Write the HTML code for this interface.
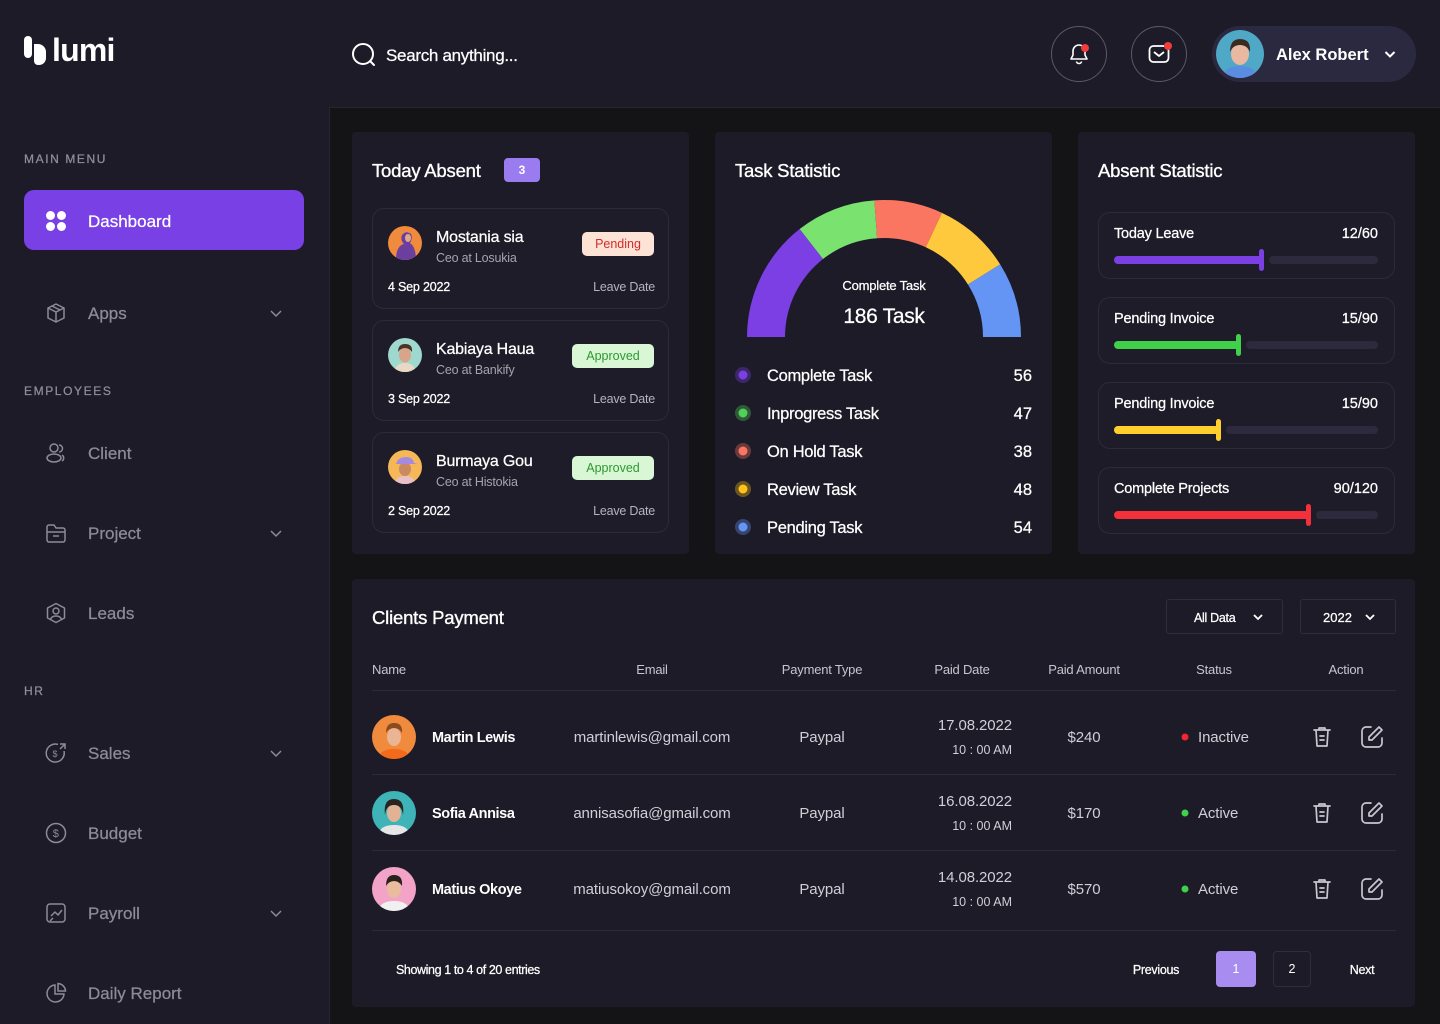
<!DOCTYPE html>
<html><head><meta charset="utf-8">
<style>
*{margin:0;padding:0;box-sizing:border-box}
body{width:1440px;height:1024px;background:#1c1b27;font-family:"Liberation Sans",sans-serif;color:#fff;position:relative;overflow:hidden}
.a{position:absolute}
.t{position:absolute;white-space:nowrap;line-height:20px;height:20px;margin-top:1px}
.card{position:absolute;background:#1c1b27;border-radius:4px}
.sub{position:absolute;border:1px solid #2c2b37;border-radius:12px;background:#1d1c28}
.nav{font-size:17px;color:#8c8b97;left:88px}
.sec{font-size:12px;letter-spacing:1.6px;color:#8f8e99;left:24px}
.title{font-size:18.5px;color:#fff;letter-spacing:-0.2px;-webkit-text-stroke:0.35px #fff}
.th{font-size:13px;color:#c7c6ce;letter-spacing:-0.2px}
.c{transform:translateX(-50%)}
.r{transform:translateX(-100%)}
.td{font-size:15px;color:#d0cfd7;letter-spacing:-0.1px}
.line{position:absolute;height:1px;background:#2c2b37;left:372px;width:1024px}
.badge{position:absolute;height:24px;line-height:24px;border-radius:5px;font-size:12.5px;text-align:center}
.m{-webkit-text-stroke:0.25px currentColor}
</style></head><body>

<!-- main dark area -->
<div class="a" style="left:329px;top:107px;width:1111px;height:917px;background:#141416;border-left:1px solid #262532;border-top:1px solid #262532"></div>

<!-- Logo -->
<svg class="a" style="left:22px;top:34px" width="26" height="32" viewBox="0 0 26 32">
  <rect x="2" y="2" width="8" height="22" rx="4" fill="#fff"/>
  <path d="M12 10 h4 a8 8 0 0 1 8 8 v6 a7 7 0 0 1 -7 7 h-1 a4 4 0 0 1 -4 -4 z" fill="#fff"/>
</svg>
<div class="t" style="left:52px;top:30px;height:38px;line-height:38px;font-size:32px;font-weight:bold;letter-spacing:-0.8px">lumi</div>

<!-- Sidebar -->
<div class="t sec m" style="top:148px">MAIN MENU</div>
<div class="a" style="left:24px;top:190px;width:280px;height:60px;background:#7940e6;border-radius:10px"></div>
<svg class="a" style="left:45px;top:210px" width="22" height="22" viewBox="0 0 22 22" fill="#fff">
  <circle cx="5.5" cy="5.5" r="4.5"/><circle cx="16.5" cy="5.5" r="4.5"/><circle cx="5.5" cy="16.5" r="4.5"/><circle cx="16.5" cy="16.5" r="4.5"/>
</svg>
<div class="t m" style="left:88px;top:211px;font-size:17px;color:#fff">Dashboard</div>

<!-- Apps -->
<svg class="a" style="left:45px;top:302px" width="22" height="22" viewBox="0 0 22 22" fill="none" stroke="#8c8b97" stroke-width="1.5" stroke-linejoin="round">
  <path d="M11 2 L19 6 L19 16 L11 20 L3 16 L3 6 Z"/><path d="M3 6 L11 10 L19 6 M11 10 L11 20"/><path d="M7 4 L15 8"/>
</svg>
<div class="t nav m" style="top:303px">Apps</div>
<svg class="a" style="left:269px;top:306px" width="14" height="14" viewBox="0 0 14 14" fill="none" stroke="#8c8b97" stroke-width="1.5"><path d="M2 5 L7 10 L12 5"/></svg>

<div class="t sec m" style="top:380px">EMPLOYEES</div>
<!-- Client -->
<svg class="a" style="left:45px;top:442px" width="22" height="22" viewBox="0 0 22 22" fill="none" stroke="#8c8b97" stroke-width="1.5">
  <circle cx="9" cy="6" r="4"/><ellipse cx="9" cy="16" rx="7" ry="4"/><path d="M14 3 a3.5 3.5 0 0 1 0 7"/><path d="M17 13 a3.5 3.5 0 0 1 0 6"/>
</svg>
<div class="t nav m" style="top:443px">Client</div>
<!-- Project -->
<svg class="a" style="left:45px;top:522px" width="22" height="22" viewBox="0 0 22 22" fill="none" stroke="#8c8b97" stroke-width="1.5" stroke-linejoin="round">
  <path d="M2 5 a2 2 0 0 1 2 -2 h5 l2 3 h7 a2 2 0 0 1 2 2 v10 a2 2 0 0 1 -2 2 h-14 a2 2 0 0 1 -2 -2 z"/><path d="M2 10 h18"/><path d="M8 14 h6"/>
</svg>
<div class="t nav m" style="top:523px">Project</div>
<svg class="a" style="left:269px;top:526px" width="14" height="14" viewBox="0 0 14 14" fill="none" stroke="#8c8b97" stroke-width="1.5"><path d="M2 5 L7 10 L12 5"/></svg>
<!-- Leads -->
<svg class="a" style="left:45px;top:602px" width="22" height="22" viewBox="0 0 22 22" fill="none" stroke="#8c8b97" stroke-width="1.5" stroke-linejoin="round">
  <path d="M11 1.5 L19.5 6 V16 L11 20.5 L2.5 16 V6 Z"/><circle cx="11" cy="9" r="3"/><path d="M5.5 17 a6 5 0 0 1 11 0"/>
</svg>
<div class="t nav m" style="top:603px">Leads</div>

<div class="t sec m" style="top:680px">HR</div>
<!-- Sales -->
<svg class="a" style="left:45px;top:742px" width="22" height="22" viewBox="0 0 22 22" fill="none" stroke="#8c8b97" stroke-width="1.5">
  <path d="M19 9 a9 9 0 1 1 -6 -6.5"/><path d="M15 2 h5 v5 M20 2 l-5 5"/><text x="7.5" y="15" font-size="9" fill="#8c8b97" stroke="none" font-family="Liberation Sans">$</text>
</svg>
<div class="t nav m" style="top:743px">Sales</div>
<svg class="a" style="left:269px;top:746px" width="14" height="14" viewBox="0 0 14 14" fill="none" stroke="#8c8b97" stroke-width="1.5"><path d="M2 5 L7 10 L12 5"/></svg>
<!-- Budget -->
<svg class="a" style="left:45px;top:822px" width="22" height="22" viewBox="0 0 22 22" fill="none" stroke="#8c8b97" stroke-width="1.5">
  <circle cx="11" cy="11" r="9.5"/><text x="7.8" y="15" font-size="11" fill="#8c8b97" stroke="none" font-family="Liberation Sans">$</text>
</svg>
<div class="t nav m" style="top:823px">Budget</div>
<!-- Payroll -->
<svg class="a" style="left:45px;top:902px" width="22" height="22" viewBox="0 0 22 22" fill="none" stroke="#8c8b97" stroke-width="1.5" stroke-linejoin="round">
  <rect x="2" y="2" width="18" height="18" rx="3"/><path d="M6 14 l4 -4 l3 3 l4 -5"/><path d="M5 19 l3 -3"/>
</svg>
<div class="t nav m" style="top:903px">Payroll</div>
<svg class="a" style="left:269px;top:906px" width="14" height="14" viewBox="0 0 14 14" fill="none" stroke="#8c8b97" stroke-width="1.5"><path d="M2 5 L7 10 L12 5"/></svg>
<!-- Daily Report -->
<svg class="a" style="left:45px;top:982px" width="22" height="22" viewBox="0 0 22 22" fill="none" stroke="#8c8b97" stroke-width="1.5">
  <path d="M10 3 a8.5 8.5 0 1 0 9 9 h-9 z"/><path d="M13 1.5 a8 8 0 0 1 7.5 7.5 h-7.5 z"/>
</svg>
<div class="t nav m" style="top:983px">Daily Report</div>

<!-- Header -->
<svg class="a" style="left:351px;top:42px" width="26" height="26" viewBox="0 0 26 26" fill="none" stroke="#fff" stroke-width="2">
  <circle cx="12" cy="12" r="10"/><path d="M19 19 L23 23" stroke-linecap="round"/>
</svg>
<div class="t m" style="left:386px;top:45px;font-size:17px;color:#fff;letter-spacing:-0.3px">Search anything...</div>

<div class="a" style="left:1051px;top:26px;width:56px;height:56px;border:1px solid #5a5966;border-radius:50%"></div>
<svg class="a" style="left:1067px;top:42px" width="24" height="24" viewBox="0 0 24 24" fill="none" stroke="#fff" stroke-width="1.6" stroke-linejoin="round">
  <path d="M12 3 a6 6 0 0 0 -6 6 v4 l-2 4 h16 l-2 -4 v-4 a6 6 0 0 0 -6 -6z"/><path d="M9.5 19.5 a2.5 2 0 0 0 5 0"/>
</svg>
<div class="a" style="left:1081px;top:44px;width:8px;height:8px;border-radius:50%;background:#f23b3b"></div>

<div class="a" style="left:1131px;top:26px;width:56px;height:56px;border:1px solid #5a5966;border-radius:50%"></div>
<svg class="a" style="left:1147px;top:42px" width="24" height="24" viewBox="0 0 24 24" fill="none" stroke="#fff" stroke-width="1.8" stroke-linejoin="round">
  <rect x="2.5" y="4" width="19" height="16" rx="4"/><path d="M7 10 L12 14 L17 10"/>
</svg>
<div class="a" style="left:1164px;top:42px;width:8px;height:8px;border-radius:50%;background:#f23b3b"></div>

<div class="a" style="left:1212px;top:26px;width:204px;height:56px;background:#2b2940;border-radius:28px"></div>
<svg class="a" style="left:1216px;top:30px" width="48" height="48" viewBox="0 0 48 48">
  <defs><clipPath id="ca"><circle cx="24" cy="24" r="24"/></clipPath></defs>
  <g clip-path="url(#ca)"><rect width="48" height="48" fill="#4fa8c6"/>
  <path d="M6 48 q2 -12 18 -12 q16 0 18 12z" fill="#5a8de0"/>
  <ellipse cx="24" cy="24" rx="9" ry="11" fill="#e8b9a0"/>
  <path d="M14 22 q0 -13 10 -13 q11 0 10 13 q-3 -7 -10 -7 q-7 0 -10 7z" fill="#3a2a22"/></g>
</svg>
<div class="t" style="left:1276px;top:44px;font-size:16.5px;font-weight:bold;color:#fff">Alex Robert</div>
<svg class="a" style="left:1383px;top:47px" width="14" height="14" viewBox="0 0 14 14" fill="none" stroke="#fff" stroke-width="2"><path d="M2.5 5 L7 9.5 L11.5 5"/></svg>

<!-- Today Absent -->
<div class="card" style="left:352px;top:132px;width:337px;height:422px"></div>
<div class="t title" style="left:372px;top:160px">Today Absent</div>
<div class="a" style="left:504px;top:158px;width:36px;height:24px;background:#9b7cf0;border-radius:4px;font-size:12px;line-height:24px;text-align:center;font-weight:bold">3</div>

<div class="sub" style="left:372px;top:208px;width:297px;height:101px"></div>
<svg class="a" style="left:388px;top:226px" width="34" height="34" viewBox="0 0 34 34">
  <defs><clipPath id="c1"><circle cx="17" cy="17" r="17"/></clipPath></defs>
  <g clip-path="url(#c1)"><rect width="34" height="34" fill="#f08a3c"/>
  <path d="M8 34 q0 -14 8 -16 q-4 -4 -2 -9 q4 -5 9 -1 q2 4 -1 9 q6 4 6 17z" fill="#6b3fa0"/>
  <ellipse cx="20" cy="12" rx="3" ry="4" fill="#e0a88a"/></g>
</svg>
<div class="t m" style="left:436px;top:227px;font-size:16px;color:#fff;letter-spacing:-0.2px">Mostania sia</div>
<div class="t" style="left:436px;top:247px;font-size:12.5px;color:#a5a4ae;letter-spacing:-0.2px">Ceo at Losukia</div>
<div class="badge" style="left:582px;top:232px;width:72px;background:#fde3d6;color:#d42b2b">Pending</div>
<div class="t m" style="left:388px;top:276px;font-size:12.5px;color:#fff;letter-spacing:-0.2px">4 Sep 2022</div>
<div class="t r" style="left:655px;top:276px;font-size:12.5px;color:#b5b4bd;letter-spacing:-0.2px">Leave Date</div>

<div class="sub" style="left:372px;top:320px;width:297px;height:101px"></div>
<svg class="a" style="left:388px;top:338px" width="34" height="34" viewBox="0 0 34 34">
  <defs><clipPath id="c2"><circle cx="17" cy="17" r="17"/></clipPath></defs>
  <g clip-path="url(#c2)"><rect width="34" height="34" fill="#9fd8cf"/>
  <path d="M6 34 q2 -9 11 -9 q9 0 11 9z" fill="#e9d9c4"/>
  <ellipse cx="17" cy="17" rx="6" ry="7.5" fill="#d9a58a"/>
  <path d="M10 14 q0 -8 7 -8 q8 0 7 8 q-3 -4 -7 -4 q-4 0 -7 4z" fill="#4a3428"/></g>
</svg>
<div class="t m" style="left:436px;top:339px;font-size:16px;color:#fff;letter-spacing:-0.2px">Kabiaya Haua</div>
<div class="t" style="left:436px;top:359px;font-size:12.5px;color:#a5a4ae;letter-spacing:-0.2px">Ceo at Bankify</div>
<div class="badge" style="left:572px;top:344px;width:82px;background:#d9f7d4;color:#2b9a32">Approved</div>
<div class="t m" style="left:388px;top:388px;font-size:12.5px;color:#fff;letter-spacing:-0.2px">3 Sep 2022</div>
<div class="t r" style="left:655px;top:388px;font-size:12.5px;color:#b5b4bd;letter-spacing:-0.2px">Leave Date</div>

<div class="sub" style="left:372px;top:432px;width:297px;height:101px"></div>
<svg class="a" style="left:388px;top:450px" width="34" height="34" viewBox="0 0 34 34">
  <defs><clipPath id="c3"><circle cx="17" cy="17" r="17"/></clipPath></defs>
  <g clip-path="url(#c3)"><rect width="34" height="34" fill="#f6b758"/>
  <path d="M6 34 q2 -8 11 -8 q9 0 11 8z" fill="#e8c0c8"/>
  <ellipse cx="17" cy="19" rx="6" ry="7" fill="#c98a63"/>
  <path d="M8 14 q2 -7 10 -7 q7 0 8 6 l4 1 h-22z" fill="#a58be0"/></g>
</svg>
<div class="t m" style="left:436px;top:451px;font-size:16px;color:#fff;letter-spacing:-0.2px">Burmaya Gou</div>
<div class="t" style="left:436px;top:471px;font-size:12.5px;color:#a5a4ae;letter-spacing:-0.2px">Ceo at Histokia</div>
<div class="badge" style="left:572px;top:456px;width:82px;background:#d9f7d4;color:#2b9a32">Approved</div>
<div class="t m" style="left:388px;top:500px;font-size:12.5px;color:#fff;letter-spacing:-0.2px">2 Sep 2022</div>
<div class="t r" style="left:655px;top:500px;font-size:12.5px;color:#b5b4bd;letter-spacing:-0.2px">Leave Date</div>

<!-- Task Statistic -->
<div class="card" style="left:715px;top:132px;width:337px;height:422px"></div>
<div class="t title" style="left:735px;top:160px">Task Statistic</div>
<svg class="a" style="left:0;top:0" width="1440" height="560">
  <path d="M747 337 A137 137 0 0 1 799.65 229.04 L823.05 258.99 A99 99 0 0 0 785 337 Z" fill="#7b3fe4"/>
  <path d="M799.65 229.04 A137 137 0 0 1 874.44 200.33 L877.09 238.24 A99 99 0 0 0 823.05 258.99 Z" fill="#7ae36f"/>
  <path d="M874.44 200.33 A137 137 0 0 1 941.90 212.84 L925.84 247.28 A99 99 0 0 0 877.09 238.24 Z" fill="#fb7661"/>
  <path d="M941.90 212.84 A137 137 0 0 1 1000.18 264.40 L967.95 284.54 A99 99 0 0 0 925.84 247.28 Z" fill="#ffc93d"/>
  <path d="M1000.18 264.40 A137 137 0 0 1 1021 337 L983 337 A99 99 0 0 0 967.95 284.54 Z" fill="#6495f5"/>
  <!-- task dots -->
  <circle cx="743" cy="375" r="8" fill="#7b3fe4" opacity="0.35"/><circle cx="743" cy="375" r="4.5" fill="#7b3fe4"/>
  <circle cx="743" cy="413" r="8" fill="#4fd15a" opacity="0.35"/><circle cx="743" cy="413" r="4.5" fill="#4fd15a"/>
  <circle cx="743" cy="451" r="8" fill="#fb7661" opacity="0.35"/><circle cx="743" cy="451" r="4.5" fill="#fb7661"/>
  <circle cx="743" cy="489" r="8" fill="#ffc21a" opacity="0.35"/><circle cx="743" cy="489" r="4.5" fill="#ffc21a"/>
  <circle cx="743" cy="527" r="8" fill="#6495f5" opacity="0.35"/><circle cx="743" cy="527" r="4.5" fill="#6495f5"/>
</svg>
<div class="t c m" style="left:884px;top:275px;font-size:13px;color:#fff;letter-spacing:-0.2px">Complete Task</div>
<div class="t c m" style="left:884px;top:303px;height:26px;line-height:26px;font-size:21px;color:#fff;letter-spacing:-0.3px">186 Task</div>

<div class="t m" style="left:767px;top:365px;font-size:16.5px;letter-spacing:-0.3px">Complete Task</div>
<div class="t r m" style="left:1032px;top:365px;font-size:16.5px">56</div>
<div class="t m" style="left:767px;top:403px;font-size:16.5px;letter-spacing:-0.3px">Inprogress Task</div>
<div class="t r m" style="left:1032px;top:403px;font-size:16.5px">47</div>
<div class="t m" style="left:767px;top:441px;font-size:16.5px;letter-spacing:-0.3px">On Hold Task</div>
<div class="t r m" style="left:1032px;top:441px;font-size:16.5px">38</div>
<div class="t m" style="left:767px;top:479px;font-size:16.5px;letter-spacing:-0.3px">Review Task</div>
<div class="t r m" style="left:1032px;top:479px;font-size:16.5px">48</div>
<div class="t m" style="left:767px;top:517px;font-size:16.5px;letter-spacing:-0.3px">Pending Task</div>
<div class="t r m" style="left:1032px;top:517px;font-size:16.5px">54</div>

<!-- Absent Statistic -->
<div class="card" style="left:1078px;top:132px;width:337px;height:422px"></div>
<div class="t title" style="left:1098px;top:160px">Absent Statistic</div>

<div class="sub" style="left:1098px;top:212px;width:297px;height:67px"></div>
<div class="t m" style="left:1114px;top:223px;font-size:14.5px;letter-spacing:-0.2px">Today Leave</div>
<div class="t r m" style="left:1378px;top:223px;font-size:14.5px">12/60</div>
<div class="a" style="left:1114px;top:256px;width:148px;height:8px;border-radius:4px;background:#7b3fe4"></div>
<div class="a" style="left:1259px;top:249px;width:5px;height:22px;border-radius:3px;background:#7b3fe4"></div>
<div class="a" style="left:1269px;top:256px;width:109px;height:8px;border-radius:4px;background:#2c2a3c"></div>

<div class="sub" style="left:1098px;top:297px;width:297px;height:67px"></div>
<div class="t m" style="left:1114px;top:308px;font-size:14.5px;letter-spacing:-0.2px">Pending Invoice</div>
<div class="t r m" style="left:1378px;top:308px;font-size:14.5px">15/90</div>
<div class="a" style="left:1114px;top:341px;width:125px;height:8px;border-radius:4px;background:#3fd14a"></div>
<div class="a" style="left:1236px;top:334px;width:5px;height:22px;border-radius:3px;background:#3fd14a"></div>
<div class="a" style="left:1246px;top:341px;width:132px;height:8px;border-radius:4px;background:#2c2a3c"></div>

<div class="sub" style="left:1098px;top:382px;width:297px;height:67px"></div>
<div class="t m" style="left:1114px;top:393px;font-size:14.5px;letter-spacing:-0.2px">Pending Invoice</div>
<div class="t r m" style="left:1378px;top:393px;font-size:14.5px">15/90</div>
<div class="a" style="left:1114px;top:426px;width:105px;height:8px;border-radius:4px;background:#ffcf2e"></div>
<div class="a" style="left:1216px;top:419px;width:5px;height:22px;border-radius:3px;background:#ffcf2e"></div>
<div class="a" style="left:1226px;top:426px;width:152px;height:8px;border-radius:4px;background:#2c2a3c"></div>

<div class="sub" style="left:1098px;top:467px;width:297px;height:67px"></div>
<div class="t m" style="left:1114px;top:478px;font-size:14.5px;letter-spacing:-0.2px">Complete Projects</div>
<div class="t r m" style="left:1378px;top:478px;font-size:14.5px">90/120</div>
<div class="a" style="left:1114px;top:511px;width:195px;height:8px;border-radius:4px;background:#f4303a"></div>
<div class="a" style="left:1306px;top:504px;width:5px;height:22px;border-radius:3px;background:#f4303a"></div>
<div class="a" style="left:1316px;top:511px;width:62px;height:8px;border-radius:4px;background:#2c2a3c"></div>

<!-- Clients Payment -->
<div class="card" style="left:352px;top:579px;width:1063px;height:428px"></div>
<div class="t title" style="left:372px;top:607px">Clients Payment</div>
<div class="a" style="left:1166px;top:599px;width:117px;height:35px;border:1px solid #2f2e3a;border-radius:3px"></div>
<div class="t m" style="left:1194px;top:607px;font-size:12.5px;letter-spacing:-0.3px">All Data</div>
<svg class="a" style="left:1252px;top:611px" width="12" height="12" viewBox="0 0 12 12" fill="none" stroke="#fff" stroke-width="1.8"><path d="M2 4 L6 8 L10 4"/></svg>
<div class="a" style="left:1300px;top:599px;width:96px;height:35px;border:1px solid #2f2e3a;border-radius:3px"></div>
<div class="t m" style="left:1323px;top:607px;font-size:13px">2022</div>
<svg class="a" style="left:1364px;top:611px" width="12" height="12" viewBox="0 0 12 12" fill="none" stroke="#fff" stroke-width="1.8"><path d="M2 4 L6 8 L10 4"/></svg>

<div class="t th" style="left:372px;top:659px">Name</div>
<div class="t th c" style="left:652px;top:659px">Email</div>
<div class="t th c" style="left:822px;top:659px">Payment Type</div>
<div class="t th c" style="left:962px;top:659px">Paid Date</div>
<div class="t th c" style="left:1084px;top:659px">Paid Amount</div>
<div class="t th c" style="left:1214px;top:659px">Status</div>
<div class="t th c" style="left:1346px;top:659px">Action</div>
<div class="line" style="top:690px"></div>
<div class="line" style="top:774px"></div>
<div class="line" style="top:850px"></div>
<div class="line" style="top:930px"></div>

<!-- row avatars -->
<svg class="a" style="left:0;top:0" width="1440" height="1024">
  <defs>
    <clipPath id="r1"><circle cx="394" cy="737" r="22"/></clipPath>
    <clipPath id="r2"><circle cx="394" cy="813" r="22"/></clipPath>
    <clipPath id="r3"><circle cx="394" cy="889" r="22"/></clipPath>
  </defs>
  <g clip-path="url(#r1)"><rect x="372" y="715" width="44" height="44" fill="#f08a3c"/>
    <path d="M378 759 q2 -10 16 -10 q14 0 16 10z" fill="#f26a1a"/>
    <ellipse cx="394" cy="737" rx="7" ry="9" fill="#e9b595"/>
    <path d="M386 733 q0 -10 8 -10 q9 0 8 10 q-3 -5 -8 -5 q-5 0 -8 5z" fill="#8a4a22"/></g>
  <g clip-path="url(#r2)"><rect x="372" y="791" width="44" height="44" fill="#3eb3b8"/>
    <path d="M378 835 q2 -10 16 -10 q14 0 16 10z" fill="#e6e6e6"/>
    <ellipse cx="394" cy="813" rx="7" ry="9" fill="#e2b294"/>
    <path d="M385 815 q-2 -16 9 -16 q11 0 9 16 q-1 -10 -9 -10 q-8 0 -9 10z" fill="#2a2320"/></g>
  <g clip-path="url(#r3)"><rect x="372" y="867" width="44" height="44" fill="#f3a3c8"/>
    <path d="M378 911 q2 -10 16 -10 q14 0 16 10z" fill="#f0f0f0"/>
    <ellipse cx="394" cy="889" rx="7" ry="9" fill="#e8bc9c"/>
    <path d="M386 886 q0 -11 8 -11 q9 0 8 11 q-3 -5 -8 -5 q-5 0 -8 5z" fill="#2b211c"/></g>
  <!-- status dots -->
  <circle cx="1185" cy="737" r="3.5" fill="#f2262e"/>
  <circle cx="1185" cy="813" r="3.5" fill="#3fd14a"/>
  <circle cx="1185" cy="889" r="3.5" fill="#3fd14a"/>
  <!-- action icons -->
  <g fill="none" stroke="#c8c7cf" stroke-width="1.7" stroke-linejoin="round" stroke-linecap="round">
    <g transform="translate(1312,726)"><path d="M2 4 h16 M7 4 V2 h6 v2 M4 4 l1 16 h10 l1 -16"/><path d="M8 10 h4 M8 14 h4"/></g>
    <g transform="translate(1360,725)"><path d="M11 2 h-5 a4 4 0 0 0 -4 4 v12 a4 4 0 0 0 4 4 h12 a4 4 0 0 0 4 -4 v-5"/><path d="M19 2 l3 3 l-10 10 h-3 v-3 z"/></g>
    <g transform="translate(1312,802)"><path d="M2 4 h16 M7 4 V2 h6 v2 M4 4 l1 16 h10 l1 -16"/><path d="M8 10 h4 M8 14 h4"/></g>
    <g transform="translate(1360,801)"><path d="M11 2 h-5 a4 4 0 0 0 -4 4 v12 a4 4 0 0 0 4 4 h12 a4 4 0 0 0 4 -4 v-5"/><path d="M19 2 l3 3 l-10 10 h-3 v-3 z"/></g>
    <g transform="translate(1312,878)"><path d="M2 4 h16 M7 4 V2 h6 v2 M4 4 l1 16 h10 l1 -16"/><path d="M8 10 h4 M8 14 h4"/></g>
    <g transform="translate(1360,877)"><path d="M11 2 h-5 a4 4 0 0 0 -4 4 v12 a4 4 0 0 0 4 4 h12 a4 4 0 0 0 4 -4 v-5"/><path d="M19 2 l3 3 l-10 10 h-3 v-3 z"/></g>
  </g>
</svg>

<!-- row 1 -->
<div class="t" style="left:432px;top:727px;font-size:14.5px;font-weight:bold;letter-spacing:-0.4px">Martin Lewis</div>
<div class="t td c" style="left:652px;top:727px">martinlewis@gmail.com</div>
<div class="t td c" style="left:822px;top:727px">Paypal</div>
<div class="t td r" style="left:1012px;top:715px">17.08.2022</div>
<div class="t r" style="left:1012px;top:739px;font-size:12.5px;color:#d0cfd7">10 : 00 AM</div>
<div class="t td c" style="left:1084px;top:727px">$240</div>
<div class="t td" style="left:1198px;top:727px">Inactive</div>
<!-- row 2 -->
<div class="t" style="left:432px;top:803px;font-size:14.5px;font-weight:bold;letter-spacing:-0.4px">Sofia Annisa</div>
<div class="t td c" style="left:652px;top:803px">annisasofia@gmail.com</div>
<div class="t td c" style="left:822px;top:803px">Paypal</div>
<div class="t td r" style="left:1012px;top:791px">16.08.2022</div>
<div class="t r" style="left:1012px;top:815px;font-size:12.5px;color:#d0cfd7">10 : 00 AM</div>
<div class="t td c" style="left:1084px;top:803px">$170</div>
<div class="t td" style="left:1198px;top:803px">Active</div>
<!-- row 3 -->
<div class="t" style="left:432px;top:879px;font-size:14.5px;font-weight:bold;letter-spacing:-0.4px">Matius Okoye</div>
<div class="t td c" style="left:652px;top:879px">matiusokoy@gmail.com</div>
<div class="t td c" style="left:822px;top:879px">Paypal</div>
<div class="t td r" style="left:1012px;top:867px">14.08.2022</div>
<div class="t r" style="left:1012px;top:891px;font-size:12.5px;color:#d0cfd7">10 : 00 AM</div>
<div class="t td c" style="left:1084px;top:879px">$570</div>
<div class="t td" style="left:1198px;top:879px">Active</div>

<!-- footer -->
<div class="t m" style="left:396px;top:959px;font-size:12.5px;letter-spacing:-0.4px">Showing 1 to 4 of 20 entries</div>
<div class="t c m" style="left:1156px;top:959px;font-size:12.5px;letter-spacing:-0.3px">Previous</div>
<div class="a" style="left:1216px;top:951px;width:40px;height:36px;background:#a98cf0;border-radius:4px;font-size:12.5px;line-height:36px;text-align:center">1</div>
<div class="a" style="left:1273px;top:951px;width:38px;height:36px;border:1px solid #2f2e3a;border-radius:4px;font-size:12.5px;line-height:34px;text-align:center">2</div>
<div class="t c m" style="left:1362px;top:959px;font-size:12.5px;letter-spacing:-0.3px">Next</div>

</body></html>
